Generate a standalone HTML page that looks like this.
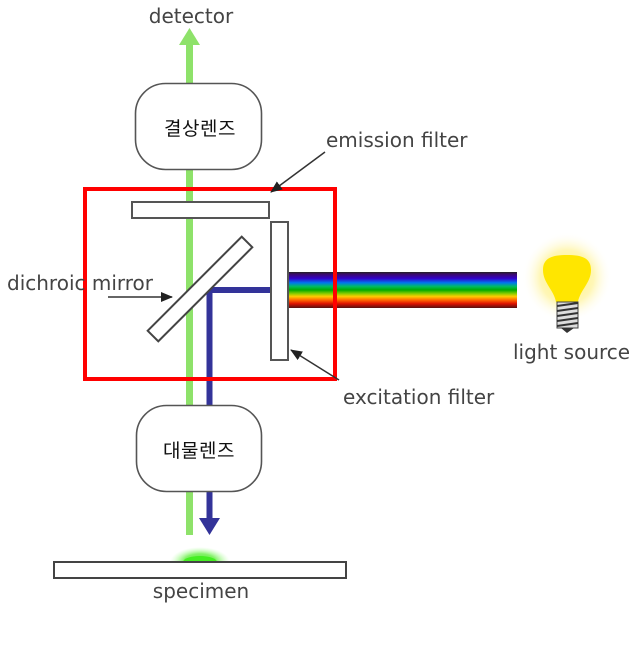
<!DOCTYPE html>
<html><head><meta charset="utf-8"><style>
html,body{margin:0;padding:0;background:#fff;}
svg{display:block;}
.t{font-family:"DejaVu Sans","Liberation Sans",sans-serif;font-size:20px;fill:#444;}
.k{font-family:"Liberation Sans","Noto Sans CJK KR","NanumGothic",sans-serif;font-size:19px;letter-spacing:0.5px;fill:#111;}
</style></head><body>
<svg width="640" height="656" viewBox="0 0 640 656" xmlns="http://www.w3.org/2000/svg">
<defs>
<linearGradient id="rb" x1="0" y1="0" x2="0" y2="1">
<stop offset="0" stop-color="#222"/>
<stop offset="0.06" stop-color="#3a0a6a"/>
<stop offset="0.18" stop-color="#3300cc"/>
<stop offset="0.3" stop-color="#0077ee"/>
<stop offset="0.4" stop-color="#00bb66"/>
<stop offset="0.5" stop-color="#00aa00"/>
<stop offset="0.6" stop-color="#88cc00"/>
<stop offset="0.68" stop-color="#ffcc00"/>
<stop offset="0.78" stop-color="#ff6600"/>
<stop offset="0.88" stop-color="#dd1100"/>
<stop offset="1" stop-color="#551111"/>
</linearGradient>
<radialGradient id="glow" cx="0.5" cy="0.5" r="0.5">
<stop offset="0" stop-color="#fff066" stop-opacity="1"/>
<stop offset="0.6" stop-color="#fff399" stop-opacity="0.7"/>
<stop offset="1" stop-color="#ffffff" stop-opacity="0"/>
</radialGradient>
<radialGradient id="gg" cx="0.5" cy="0.5" r="0.5">
<stop offset="0" stop-color="#44ee22"/>
<stop offset="0.55" stop-color="#66ee44" stop-opacity="0.8"/>
<stop offset="1" stop-color="#bbffaa" stop-opacity="0"/>
</radialGradient>
<marker id="ah" markerWidth="12" markerHeight="10" refX="11" refY="5" orient="auto" markerUnits="userSpaceOnUse">
<path d="M0,0 L12,5 L0,10 z" fill="#222"/>
</marker>
</defs>

<!-- green emission line -->
<rect x="186" y="44" width="7" height="491" fill="#8ee26a"/>
<path d="M179,45 L189.5,28 L200,45 z" fill="#8ee26a"/>

<!-- blue excitation line -->
<path d="M271,290 L209.5,290 L209.5,520" fill="none" stroke="#333399" stroke-width="6"/>
<path d="M199,518 L209.5,535 L220,518 z" fill="#333399"/>

<!-- rainbow -->
<rect x="288" y="272" width="229" height="36" fill="url(#rb)"/>

<!-- upper lens -->
<rect x="135.5" y="83.5" width="126" height="86" rx="30" fill="#fff" stroke="#555" stroke-width="1.6"/>
<text class="k" x="200" y="135" text-anchor="middle">결상렌즈</text>

<!-- lower lens -->
<rect x="136.5" y="405.5" width="125" height="86" rx="30" fill="#fff" stroke="#555" stroke-width="1.6"/>
<text class="k" x="199" y="457" text-anchor="middle">대물렌즈</text>

<!-- emission filter -->
<rect x="132" y="202" width="137" height="16" fill="#fff" stroke="#555" stroke-width="2"/>
<!-- excitation filter -->
<rect x="271" y="222" width="17" height="138" fill="#fff" stroke="#555" stroke-width="2"/>
<!-- dichroic mirror -->
<rect x="133.5" y="281.5" width="133" height="15" fill="#fff" stroke="#444" stroke-width="2" transform="rotate(-45 200 289)"/>

<!-- specimen glow -->
<ellipse cx="200" cy="562" rx="30" ry="15" fill="url(#gg)"/>
<ellipse cx="200" cy="562" rx="17" ry="6" fill="#44ee22"/>
<!-- specimen -->
<rect x="54" y="562" width="292" height="16" fill="#fff" stroke="#444" stroke-width="2"/>

<!-- light bulb -->
<circle cx="567" cy="277" r="45" fill="url(#glow)"/>
<path d="M556,302 C554,290 543,283 543,270 C543,258 552,255 567,255 C582,255 591,258 591,270 C591,283 580,290 578,302 z" fill="#ffe600"/>
<rect x="557" y="302" width="21" height="26" fill="#ddd" stroke="#444" stroke-width="1"/>
<path d="M557,306 L578,303 M557,311 L578,308 M557,316 L578,313 M557,321 L578,318 M557,326 L578,323" stroke="#333" stroke-width="2"/>
<path d="M561,328 L574,328 L567,333 z" fill="#333"/>

<!-- red box -->
<rect x="85" y="189" width="250" height="190" fill="none" stroke="#ff0000" stroke-width="4"/>

<!-- pointer arrows -->
<line x1="325" y1="152" x2="271" y2="192" stroke="#333" stroke-width="1.5" marker-end="url(#ah)"/>
<line x1="108" y1="297" x2="172" y2="297" stroke="#333" stroke-width="1.5" marker-end="url(#ah)"/>
<line x1="339" y1="380" x2="291" y2="350" stroke="#333" stroke-width="1.5" marker-end="url(#ah)"/>

<!-- labels -->
<text class="t" x="191" y="23" text-anchor="middle">detector</text>
<text class="t" x="326" y="147">emission filter</text>
<text class="t" x="7" y="290">dichroic mirror</text>
<text class="t" x="343" y="404">excitation filter</text>
<text class="t" x="513" y="359">light source</text>
<text class="t" x="201" y="598" text-anchor="middle">specimen</text>
</svg>
</body></html>
